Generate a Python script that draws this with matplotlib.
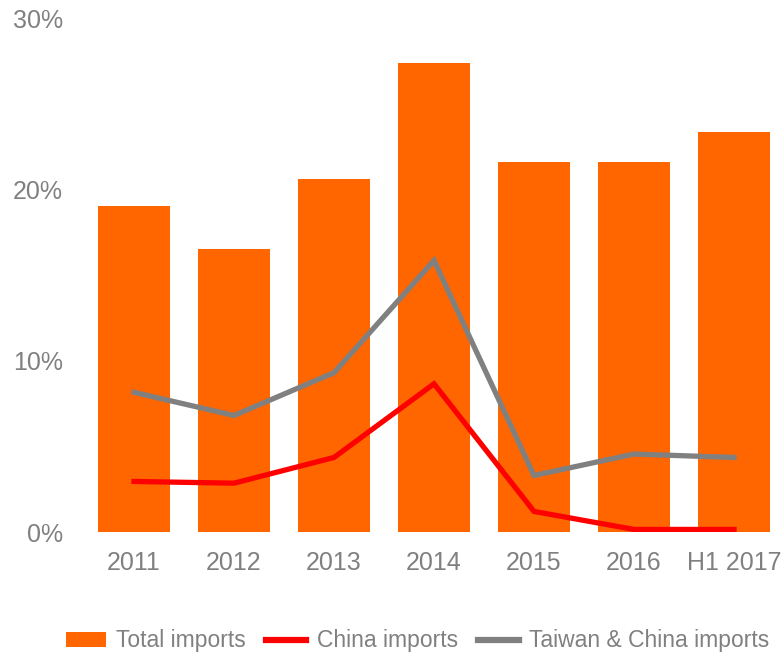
import matplotlib
matplotlib.use("Agg")
import matplotlib.pyplot as plt
from matplotlib.ticker import FuncFormatter

categories = ["2011", "2012", "2013", "2014", "2015", "2016", "H1 2017"]
total_imports = [19.05, 16.5, 20.6, 27.4, 21.6, 21.6, 23.35]
china_imports = [2.95, 2.85, 4.35, 8.65, 1.2, 0.15, 0.15]
taiwan_china_imports = [8.15, 6.8, 9.3, 15.85, 3.3, 4.55, 4.35]
y_ticks = [0, 10, 20, 30]

plt.rcParams['font.family'] = ['Liberation Sans', 'DejaVu Sans']
GREY = "#808080"
FS = 18.0
LFS = 16.5

fig = plt.figure(figsize=(7.83, 6.54), dpi=100)
ax = fig.add_axes([84 / 783, (654 - 532) / 654, 700 / 783, 514 / 654])

x = list(range(len(categories)))
b = ax.bar(x, total_imports, width=0.72, color="#FF6600", label="Total imports", zorder=1)
l1, = ax.plot(x, china_imports, color="#FF0000", lw=3.8, label="China imports", zorder=3,
              solid_joinstyle="miter")
l2, = ax.plot(x, taiwan_china_imports, color=GREY, lw=3.8, label="Taiwan & China imports", zorder=2,
              solid_joinstyle="miter")

ax.set_xlim(-0.5, 6.5)
ax.set_ylim(0, 30)
ax.set_yticks(y_ticks)
ax.yaxis.set_major_formatter(FuncFormatter(lambda v, p: f"{int(v)}%"))
ax.set_xticks(x)
ax.set_xticklabels(categories)
for s in ax.spines.values():
    s.set_visible(False)
ax.tick_params(axis='both', length=0, colors=GREY, labelsize=FS)
ax.tick_params(axis='x', pad=14)
ax.tick_params(axis='y', pad=15)

leg = fig.legend([b, l1, l2], ["Total imports", "China imports", "Taiwan & China imports"],
                 loc="center", bbox_to_anchor=(0.533, 1 - 641 / 654),
                 ncol=3, frameon=False, fontsize=LFS, handlelength=1.75, handleheight=0.65,
                 handletextpad=0.45, columnspacing=0.9, borderaxespad=0)
for t in leg.get_texts():
    t.set_color(GREY)
for lh in leg.get_lines():
    lh.set_linewidth(4.5)

fig.savefig("out.png", dpi=100)
